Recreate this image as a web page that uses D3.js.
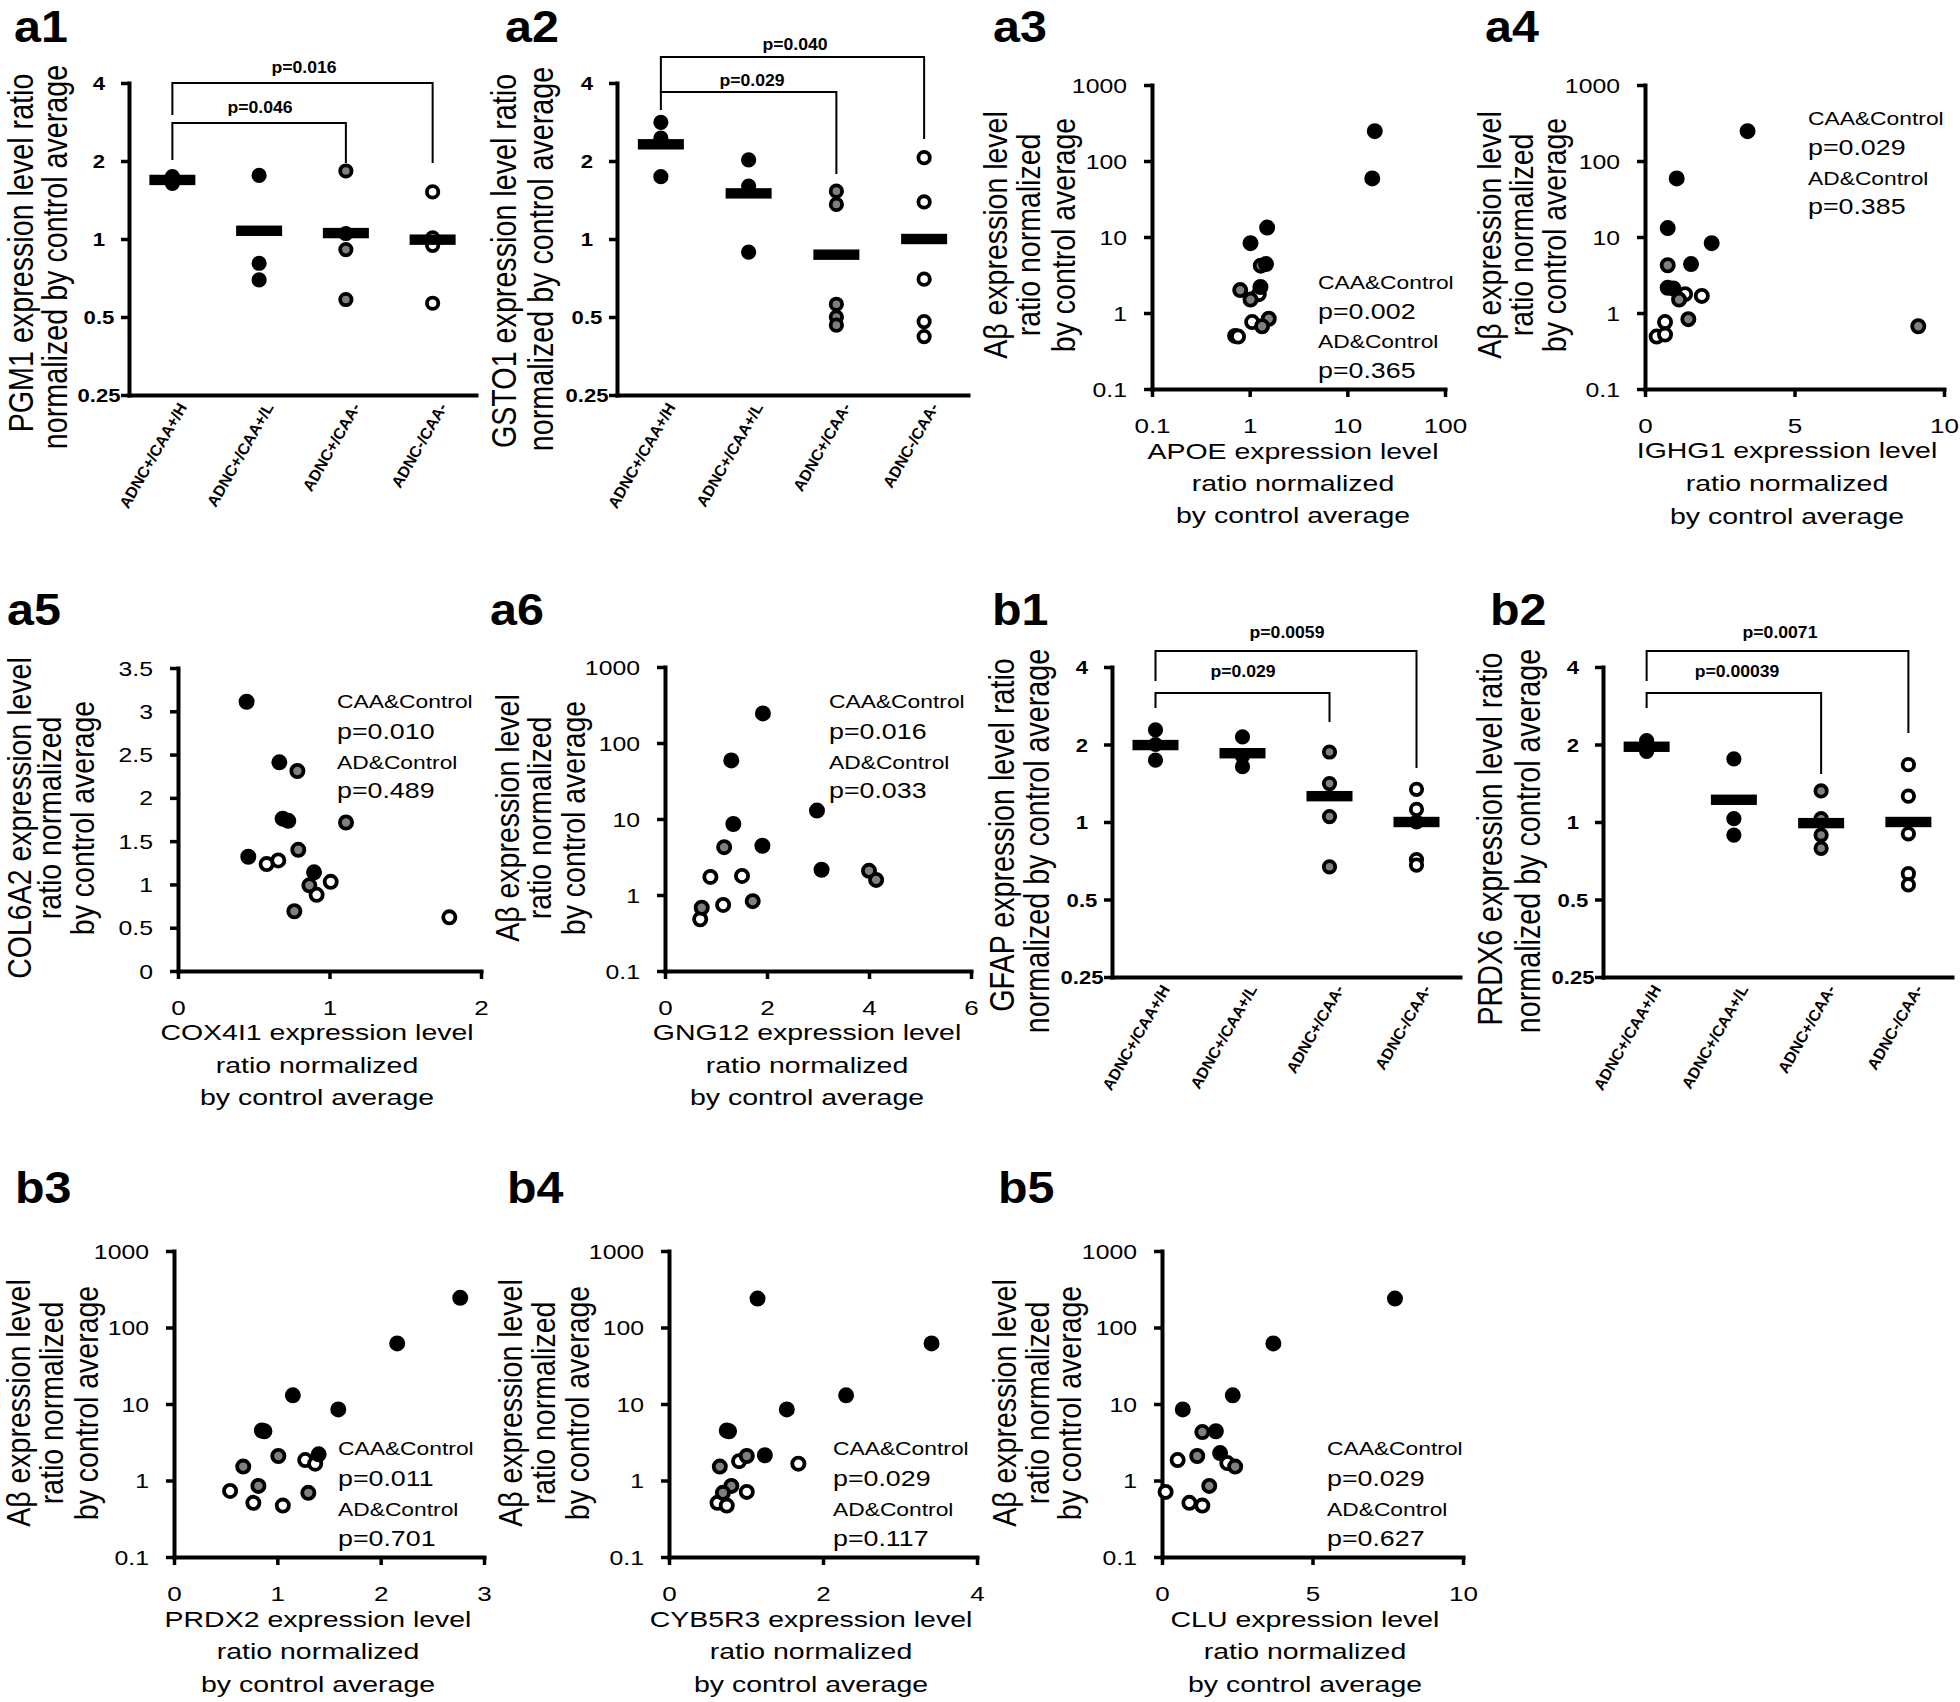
<!DOCTYPE html>
<html><head><meta charset="utf-8">
<script src="https://cdn.jsdelivr.net/npm/d3@7"></script>
<style>
body{margin:0;background:#fff}
svg{display:block;background:#fff}
text{font-family:"Liberation Sans",Arial,Helvetica,sans-serif;fill:#000}
</style>
</head><body>
<svg id="fig" width="1960" height="1702"></svg>
<script>
// ================= DATA =================
const groups = ["ADNC+/CAA+/H", "ADNC+/CAA+/L", "ADNC+/CAA-", "ADNC-/CAA-"];
const dotTicks = [0.25, 0.5, 1, 2, 4];
const logTicks = [0.1, 1, 10, 100, 1000];

// a1 PGM1
const pgm1Values = [[1.74, 1.69, 1.64], [1.76, 0.806, 0.695], [1.83, 1.05, 0.91, 0.584], [1.52, 1.01, 0.945, 0.565]];
const pgm1Means = [1.69, 1.076, 1.054, 0.994];
const pgm1Pairs = [[0, 3, "p=0.016"], [0, 2, "p=0.046"]];
// a2 GSTO1
const gsto1Values = [[2.82, 2.45, 1.74], [2.02, 1.6, 0.89], [1.53, 1.36, 0.56, 0.50, 0.465], [2.06, 1.39, 0.70, 0.48, 0.42]];
const gsto1Means = [2.32, 1.5, 0.87, 1.0];
const gsto1Pairs = [[0, 3, "p=0.040"], [0, 2, "p=0.029"]];
// b1 GFAP
const gfapValues = [[2.28, 2.0, 1.74], [2.14, 1.8, 1.64], [1.87, 1.41, 1.05, 0.67], [1.34, 1.12, 1.0, 0.715, 0.68]];
const gfapMeans = [1.99, 1.85, 1.26, 1.0];
const gfapPairs = [[0, 3, "p=0.0059"], [0, 2, "p=0.029"]];
// b2 PRDX6
const prdx6Values = [[2.07, 1.95, 1.88], [1.76, 1.03, 0.89], [1.32, 1.03, 0.89, 0.79], [1.67, 1.26, 0.90, 0.63, 0.57]];
const prdx6Means = [1.96, 1.22, 0.99, 1.0];
const prdx6Pairs = [[0, 3, "p=0.0071"], [0, 2, "p=0.00039"]];

// scatter points: [gene ratio, Abeta (or COL6A2) ratio, group]  A = ADNC+/CAA+, B = ADNC+/CAA-, C = ADNC-/CAA-
const apoePoints = [[1.06,0.76,"C"],[0.71,0.50,"C"],[0.76,0.49,"C"],[1.24,1.77,"C"],[0.80,2.0,"B"],[1.02,1.5,"B"],[1.57,0.84,"B"],[1.34,0.67,"B"],[1.30,4.2,"B"],
  [19.1,247,"A"],[18.0,59,"A"],[1.51,13.3,"A"],[1.02,8.3,"A"],[1.47,4.4,"A"],[1.29,2.2,"A"]];
const apoeStats = ["CAA&Control", "p=0.002", "AD&Control", "p=0.365"];

const ighg1Points = [[0.67,0.76,"C"],[0.39,0.49,"C"],[0.67,0.52,"C"],[1.34,1.77,"C"],[1.9,1.68,"C"],[1.14,1.5,"B"],[1.45,0.83,"B"],[9.14,0.67,"B"],[0.76,4.25,"B"],
  [3.43,247,"A"],[1.06,59,"A"],[0.76,13.1,"A"],[2.23,8.3,"A"],[1.54,4.4,"A"],[0.76,2.15,"A"],[0.95,2.1,"A"]];
const ighg1Stats = ["CAA&Control", "p=0.029", "AD&Control", "p=0.385"];

const cox4i1Points = [[0.585,1.235,"C"],[0.662,1.277,"C"],[0.915,0.88,"C"],[1.008,1.03,"C"],[1.791,0.62,"C"],[0.788,2.31,"B"],[1.109,1.715,"B"],[0.794,1.40,"B"],[0.867,0.99,"B"],[0.768,0.69,"B"],
  [0.453,3.11,"A"],[0.669,2.41,"A"],[0.691,1.76,"A"],[0.728,1.735,"A"],[0.464,1.32,"A"],[0.898,1.14,"A"]];
const cox4i1Stats = ["CAA&Control", "p=0.010", "AD&Control", "p=0.489"];

const gng12Points = [[0.89,1.73,"C"],[1.51,1.78,"C"],[1.14,0.74,"C"],[0.69,0.48,"C"],[1.16,4.26,"B"],[4.0,2.08,"B"],[4.14,1.58,"B"],[1.72,0.83,"B"],[0.72,0.68,"B"],
  [1.92,245,"A"],[1.30,59,"A"],[1.34,8.6,"A"],[2.98,12.9,"A"],[1.91,4.45,"A"],[3.07,2.15,"A"]];
const gng12Stats = ["CAA&Control", "p=0.016", "AD&Control", "p=0.033"];

const prdx2Points = [[1.27,1.85,"C"],[1.366,1.66,"C"],[0.543,0.73,"C"],[0.768,0.51,"C"],[1.053,0.47,"C"],[1.01,2.09,"B"],[0.67,1.52,"B"],[0.817,0.85,"B"],[1.30,0.69,"B"],
  [2.77,244,"A"],[2.16,62,"A"],[1.15,13,"A"],[1.59,8.5,"A"],[0.85,4.5,"A"],[0.875,4.4,"A"],[1.40,2.2,"A"]];
const prdx2Stats = ["CAA&Control", "p=0.011", "AD&Control", "p=0.701"];

const cyb5r3Points = [[0.91,1.79,"C"],[1.68,1.66,"C"],[1.01,0.71,"C"],[0.63,0.51,"C"],[0.75,0.47,"C"],[1.01,2.09,"B"],[0.66,1.52,"B"],[0.81,0.85,"B"],[0.70,0.69,"B"],
  [1.15,239,"A"],[3.41,62,"A"],[2.30,13,"A"],[1.53,8.5,"A"],[0.75,4.5,"A"],[0.78,4.4,"A"],[1.245,2.14,"A"]];
const cyb5r3Stats = ["CAA&Control", "p=0.029", "AD&Control", "p=0.117"];

const cluPoints = [[0.52,1.85,"C"],[2.17,1.69,"C"],[0.12,0.71,"C"],[0.91,0.51,"C"],[1.34,0.47,"C"],[1.34,4.3,"B"],[1.17,2.09,"B"],[2.43,1.52,"B"],[1.57,0.85,"B"],
  [7.74,239,"A"],[3.70,62,"A"],[2.35,13,"A"],[0.69,8.5,"A"],[1.79,4.4,"A"],[1.93,2.28,"A"]];
const cluStats = ["CAA&Control", "p=0.029", "AD&Control", "p=0.627"];

const abetaTitle = ["A\u03b2 expression level", "ratio normalized", "by control average"];

// ================= DRAWING =================
const svg = d3.select("#fig");
const fillOf = {A: "#000", B: "#7f7f7f", C: "#fff"};
const dotFill = ["#000", "#000", "#7f7f7f", "#fff"];
const fmt = d => String(d);

function txt(g, x, y, s, o = {}) {
  const sx = o.sx === undefined ? 1.24 : o.sx;
  const t = g.append("text")
    .attr("transform", `translate(${x},${y}) scale(${sx},1)` + (o.rot ? ` rotate(${o.rot})` : ""))
    .attr("text-anchor", o.anchor || "start")
    .attr("font-size", o.size || 20)
    .attr("font-weight", o.weight || "normal")
    .text(s);
  if (o.dy) t.attr("dy", o.dy);
  return t;
}

function styleAxis(a) {
  a.select(".domain").attr("stroke", "#000").attr("stroke-width", 4).attr("stroke-linecap", "square");
  a.selectAll(".tick line").attr("stroke", "#000").attr("stroke-width", 3.5);
}

function dotPlot(values, means, pairs, title, L) {
  const g = svg.append("g");
  const x = d3.scaleBand().domain(groups).range([L.x0, L.x1]);
  const cx = i => x(groups[i]) + x.bandwidth() / 2;
  const y = d3.scaleLog().base(2).domain([0.25, 4]).range([L.yb, L.yt]);

  const xa = g.append("g").attr("transform", `translate(0,${L.yb})`)
    .call(d3.axisBottom(x).tickSize(0).tickSizeOuter(0));
  styleAxis(xa);
  xa.selectAll(".tick text").attr("y", null).attr("dy", null)
    .attr("text-anchor", "end").attr("font-size", 15.8).attr("font-weight", "bold")
    .attr("transform", "translate(15,12) rotate(-60)");

  const ya = g.append("g").attr("transform", `translate(${L.x0},0)`)
    .call(d3.axisLeft(y).tickValues(dotTicks).tickFormat(fmt).tickSize(8).tickSizeOuter(0));
  styleAxis(ya);
  ya.selectAll(".tick text").attr("x", null).attr("dy", "0.35em")
    .attr("text-anchor", "middle").attr("font-size", 18.6).attr("font-weight", "bold")
    .attr("transform", "translate(-30,0) scale(1.19,1)");

  const pts = values.flatMap((arr, i) => arr.map(v => ({i, v})));
  g.append("g").selectAll("circle").data(pts).join("circle")
    .attr("cx", d => cx(d.i)).attr("cy", d => y(d.v)).attr("r", 5.7)
    .attr("fill", d => dotFill[d.i]).attr("stroke", "#000").attr("stroke-width", 3.8);

  g.append("g").selectAll("rect").data(means).join("rect")
    .attr("x", (m, i) => cx(i) - 23).attr("y", m => y(m) - 5.2)
    .attr("width", 46).attr("height", 10.4).attr("fill", "#000");

  pairs.forEach((p, k) => {
    const b = L.brackets[k];
    g.append("path")
      .attr("d", `M${cx(p[0])},${b.yl}V${b.y}H${cx(p[1])}V${b.yr}`)
      .attr("fill", "none").attr("stroke", "#000").attr("stroke-width", 2);
    txt(g, b.lx, b.ly, p[2], {anchor: "middle", size: 16.3, weight: "bold", sx: 1.08});
  });

  title.forEach((s, k) => txt(g, L.tx[k], L.ty[k], s, {anchor: "middle", rot: -90, size: 28.7, sx: 1.22, dy: "0.35em"}));
  txt(g, L.lab[0], L.lab[1], L.label, {size: 44, weight: "bold", sx: 1.1});
}

function scatter(points, stats, ytitle, xtitle, L) {
  const g = svg.append("g");
  const x = (L.xlog ? d3.scaleLog() : d3.scaleLinear()).domain(L.xd).range([L.x0, L.x1]);
  const y = (L.ylog ? d3.scaleLog() : d3.scaleLinear()).domain(L.yd).range([L.yb, L.yt]);

  const xa = g.append("g").attr("transform", `translate(0,${L.yb})`)
    .call(d3.axisBottom(x).tickValues(L.xt).tickFormat(fmt).tickSize(8).tickSizeOuter(0));
  styleAxis(xa);
  xa.selectAll(".tick text").attr("y", null).attr("dy", null)
    .attr("text-anchor", "middle").attr("font-size", 21)
    .attr("transform", "translate(0,44) scale(1.24,1)");

  const ya = g.append("g").attr("transform", `translate(${L.x0},0)`)
    .call(d3.axisLeft(y).tickValues(L.yt2).tickFormat(fmt).tickSize(8).tickSizeOuter(0));
  styleAxis(ya);
  ya.selectAll(".tick text").attr("x", null).attr("dy", "0.35em")
    .attr("text-anchor", "end").attr("font-size", 20)
    .attr("transform", "translate(-25,0) scale(1.24,1)");

  g.append("g").selectAll("circle").data(points).join("circle")
    .attr("cx", d => x(d[0])).attr("cy", d => y(d[1])).attr("r", 6.1)
    .attr("fill", d => fillOf[d[2]]).attr("stroke", "#000").attr("stroke-width", 3.8);

  stats.forEach((s, k) => txt(g, L.ax, L.ay[k], s, {size: k % 2 === 0 ? 18.4 : 21.6, sx: 1.24}));
  ytitle.forEach((s, k) => txt(g, L.tx[k], L.ty, s, {anchor: "middle", rot: -90, size: 28.5, sx: 1.18, dy: "0.35em"}));
  xtitle.forEach((s, k) => txt(g, L.xx, L.xy[k], s, {anchor: "middle", size: 22.6, sx: 1.26}));
  txt(g, L.lab[0], L.lab[1], L.label, {size: 44, weight: "bold", sx: 1.1});
}

// ---- dot plots ----
dotPlot(pgm1Values, pgm1Means, pgm1Pairs, ["PGM1 expression level ratio", "normalized by control average"],
  {x0: 129, x1: 476, yt: 83, yb: 395, tx: [21, 55], ty: [253, 257], label: "a1", lab: [14, 42],
   brackets: [{y: 83, yl: 115, yr: 163, lx: 304, ly: 73}, {y: 123, yl: 160, yr: 163, lx: 260, ly: 113}]});
dotPlot(gsto1Values, gsto1Means, gsto1Pairs, ["GSTO1 expression level ratio", "normalized by control average"],
  {x0: 617, x1: 968, yt: 83, yb: 395, tx: [504, 541], ty: [261, 259], label: "a2", lab: [505, 42],
   brackets: [{y: 57, yl: 92, yr: 139, lx: 795, ly: 50}, {y: 92, yl: 110, yr: 174, lx: 752, ly: 86}]});
dotPlot(gfapValues, gfapMeans, gfapPairs, ["GFAP expression level ratio", "normalized by control average"],
  {x0: 1112, x1: 1460, yt: 667, yb: 977, tx: [1002, 1037], ty: [835, 841], label: "b1", lab: [992, 625],
   brackets: [{y: 651, yl: 681, yr: 768, lx: 1287, ly: 638}, {y: 693, yl: 708, yr: 722, lx: 1243, ly: 677}]});
dotPlot(prdx6Values, prdx6Means, prdx6Pairs, ["PRDX6 expression level ratio", "normalized by control average"],
  {x0: 1603, x1: 1952, yt: 667, yb: 977, tx: [1490, 1528], ty: [839, 841], label: "b2", lab: [1490, 625],
   brackets: [{y: 651, yl: 681, yr: 733, lx: 1780, ly: 638}, {y: 693, yl: 708, yr: 774, lx: 1737, ly: 677}]});

// ---- scatter plots ----
scatter(apoePoints, apoeStats, abetaTitle, ["APOE expression level", "ratio normalized", "by control average"],
  {xlog: true, xd: [0.1, 100], xt: [0.1, 1, 10, 100], x0: 1152, x1: 1445, ylog: true, yd: [0.1, 1000], yt2: logTicks, yb: 389, yt: 85,
   tx: [995, 1028, 1063], ty: 235, xx: 1293, xy: [459, 491, 523], ax: 1318, ay: [289, 319, 348, 378], label: "a3", lab: [993, 42]});
scatter(ighg1Points, ighg1Stats, abetaTitle, ["IGHG1 expression level", "ratio normalized", "by control average"],
  {xlog: false, xd: [0, 10], xt: [0, 5, 10], x0: 1645, x1: 1944, ylog: true, yd: [0.1, 1000], yt2: logTicks, yb: 389, yt: 85,
   tx: [1489, 1521, 1554], ty: 235, xx: 1787, xy: [458, 491, 524], ax: 1808, ay: [125, 155, 185, 214], label: "a4", lab: [1485, 42]});
scatter(cox4i1Points, cox4i1Stats, ["COL6A2 expression level", "ratio normalized", "by control average"], ["COX4I1 expression level", "ratio normalized", "by control average"],
  {xlog: false, xd: [0, 2], xt: [0, 1, 2], x0: 178, x1: 481, ylog: false, yd: [0, 3.5], yt2: [0, 0.5, 1, 1.5, 2, 2.5, 3, 3.5], yb: 971, yt: 668,
   tx: [19, 49, 82], ty: 818, xx: 317, xy: [1040, 1073, 1105], ax: 337, ay: [708, 739, 769, 798], label: "a5", lab: [7, 625]});
scatter(gng12Points, gng12Stats, abetaTitle, ["GNG12 expression level", "ratio normalized", "by control average"],
  {xlog: false, xd: [0, 6], xt: [0, 2, 4, 6], x0: 665, x1: 971, ylog: true, yd: [0.1, 1000], yt2: logTicks, yb: 971, yt: 667,
   tx: [507, 539, 573], ty: 818, xx: 807, xy: [1040, 1073, 1105], ax: 829, ay: [708, 739, 769, 798], label: "a6", lab: [490, 625]});
scatter(prdx2Points, prdx2Stats, abetaTitle, ["PRDX2 expression level", "ratio normalized", "by control average"],
  {xlog: false, xd: [0, 3], xt: [0, 1, 2, 3], x0: 174, x1: 484, ylog: true, yd: [0.1, 1000], yt2: logTicks, yb: 1557, yt: 1251,
   tx: [18, 51, 86], ty: 1403, xx: 318, xy: [1627, 1659, 1692], ax: 338, ay: [1455, 1486, 1516, 1546], label: "b3", lab: [15, 1203]});
scatter(cyb5r3Points, cyb5r3Stats, abetaTitle, ["CYB5R3 expression level", "ratio normalized", "by control average"],
  {xlog: false, xd: [0, 4], xt: [0, 2, 4], x0: 669, x1: 977, ylog: true, yd: [0.1, 1000], yt2: logTicks, yb: 1557, yt: 1251,
   tx: [510, 543, 577], ty: 1403, xx: 811, xy: [1627, 1659, 1692], ax: 833, ay: [1455, 1486, 1516, 1546], label: "b4", lab: [507, 1203]});
scatter(cluPoints, cluStats, abetaTitle, ["CLU expression level", "ratio normalized", "by control average"],
  {xlog: false, xd: [0, 10], xt: [0, 5, 10], x0: 1162, x1: 1463, ylog: true, yd: [0.1, 1000], yt2: logTicks, yb: 1557, yt: 1251,
   tx: [1004, 1037, 1069], ty: 1403, xx: 1305, xy: [1627, 1659, 1692], ax: 1327, ay: [1455, 1486, 1516, 1546], label: "b5", lab: [998, 1203]});
</script>
</body></html>
